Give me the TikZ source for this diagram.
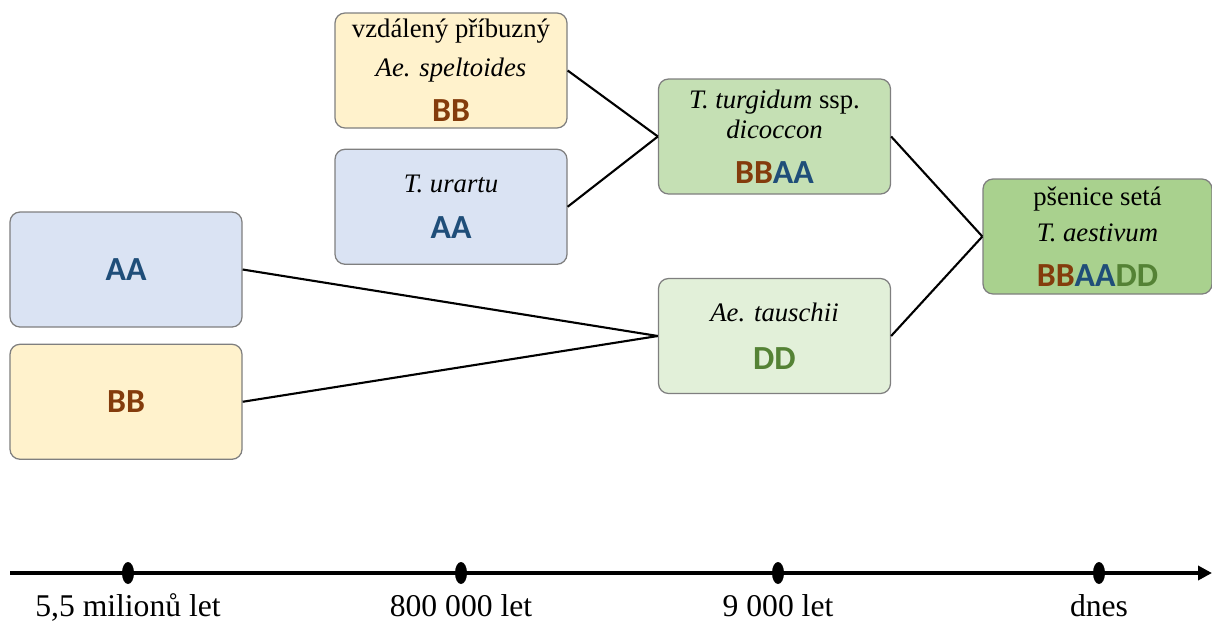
\documentclass[tikz,border=0pt]{standalone}
\usepackage{fontspec}
\setmainfont{Liberation Serif}
\newfontfamily\genomefont{Carlito}
\usepackage{xcolor}
\usetikzlibrary{arrows.meta,positioning,shapes.geometric}

\definecolor{bbcol}{HTML}{843C0C}
\definecolor{aacol}{HTML}{1F4E79}
\definecolor{ddcol}{HTML}{548235}
\definecolor{yellowfill}{HTML}{FFF2CC}
\definecolor{bluefill}{HTML}{DAE3F3}
\definecolor{greenfill}{HTML}{C5E0B4}
\definecolor{palegreen}{HTML}{E2F0D9}
\definecolor{darkgreen}{HTML}{A9D18E}
\definecolor{boxline}{HTML}{7F7F7F}

\newcommand{\genome}[1]{{\genomefont\bfseries\fontsize{24}{24}\selectfont #1}}
\newcommand{\gBB}{\textcolor{bbcol}{BB}}
\newcommand{\gAA}{\textcolor{aacol}{AA}}
\newcommand{\gDD}{\textcolor{ddcol}{DD}}

\begin{document}
\begin{tikzpicture}[
  font=\fontsize{19}{21.3}\selectfont,
  species/.style={draw=boxline,line width=0.9pt,rounded corners=0.25cm,align=center,
    minimum width=5.8cm,minimum height=2.875cm,inner sep=0pt},
  link/.style={line width=1.5pt},
  tick/.style={ellipse,fill=black,inner sep=0pt,minimum width=0.3cm,minimum height=0.55cm},
  era/.style={anchor=base,font=\fontsize{22.5}{24}\selectfont},
  node distance=0.5cm
]
\useasboundingbox (0,0) rectangle (30.3,-15.525);

% ancestral genomes
\node[species,fill=bluefill] (aaold) at (3.15,-6.7375) {\genome{\gAA}};
\node[species,fill=yellowfill,below=0.4cm of aaold] (bbold) {\genome{\gBB}};

% diploid progenitors
\node[species,fill=yellowfill] (speltoides) at (11.275,-1.7625)
  {vzdálený příbuzný\\[6pt]\textit{Ae. speltoides}\\[11pt]\genome{\gBB}};
\node[species,fill=bluefill,below=of speltoides] (urartu)
  {\textit{T. urartu}\\[11pt]\genome{\gAA}};

% polyploids
\node[species,fill=greenfill] (dicoccon) at (19.3625,-3.4125)
  {\textit{T. turgidum} ssp.\\\textit{dicoccon}\\[10.7pt]\genome{\gBB\gAA}};
\node[species,fill=palegreen] (tauschii) at (19.3625,-8.4)
  {\textit{Ae. tauschii}\\[12.8pt]\genome{\gDD}};
\node[species,fill=darkgreen,minimum width=5.725cm] (aestivum) at (27.4375,-5.9125)
  {pšenice setá\\[4.3pt]\textit{T. aestivum}\\[10.7pt]\genome{\gBB\gAA\gDD}};

\draw[link] (speltoides.east) -- (dicoccon.west);
\draw[link] (urartu.east) -- (dicoccon.west);
\draw[link] (aaold.east) -- (tauschii.west);
\draw[link] (bbold.east) -- (tauschii.west);
\draw[link] (dicoccon.east) -- (aestivum.west);
\draw[link] (tauschii.east) -- (aestivum.west);

% time axis
\coordinate (tstart) at (0.25,-14.325);
\coordinate (tend) at (30.3,-14.325);
\draw[line width=2.5pt,-{Triangle[length=0.35cm,width=0.35cm]}] (tstart) -- (tend);
\node[tick] (t1) at (3.2,-14.325) {};
\node[tick] (t2) at (11.525,-14.325) {};
\node[tick] (t3) at (19.45,-14.325) {};
\node[tick] (t4) at (27.475,-14.325) {};
\node[era] at (3.2,-15.4) {5,5 milionů let};
\node[era] at (11.525,-15.4) {800 000 let};
\node[era] at (19.45,-15.4) {9 000 let};
\node[era] at (27.475,-15.4) {dnes};
\end{tikzpicture}
\end{document}
